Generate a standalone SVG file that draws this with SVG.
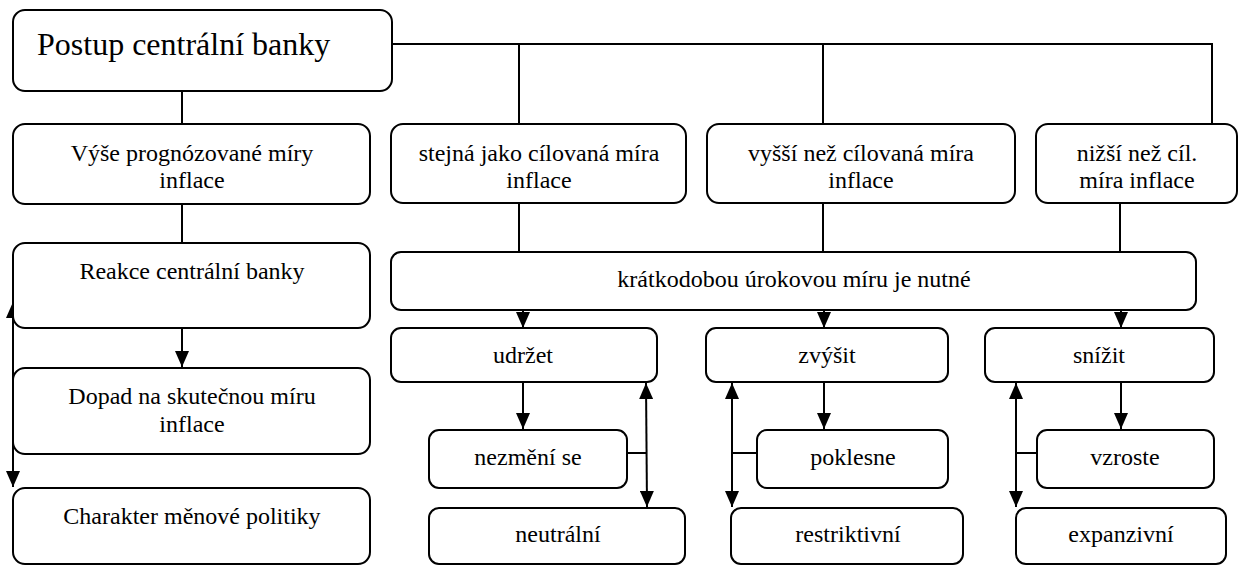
<svg xmlns="http://www.w3.org/2000/svg" width="1241" height="565" viewBox="0 0 1241 565">
  <style>
    .box { fill: #ffffff; stroke: #000000; stroke-width: 2; }
    .lbl { font-size: 24px; text-anchor: middle; }
    .title { font-size: 32px; }
    .ln { fill: none; stroke: #000000; stroke-width: 2; }
    .arr { fill: none; stroke: #000000; stroke-width: 2; marker-end: url(#head); }
    .dbl { fill: none; stroke: #000000; stroke-width: 2; marker-start: url(#head); marker-end: url(#head); }
  </style>
  <defs>
    <!-- solid triangular arrowhead, 14 wide and 16 long -->
    <marker id="head" markerUnits="userSpaceOnUse" viewBox="0 0 16 14" markerWidth="16" markerHeight="14" refX="16" refY="7" orient="auto-start-reverse">
      <path d="M0,0 L16,7 L0,14 z" fill="#000000"/>
    </marker>
  </defs>
  <rect width="1241" height="565" fill="#ffffff"/>

  <!-- connectors -->
  <g id="connectors">
    <path class="ln" d="M392,44 H1212 V124"/>
    <path class="ln" d="M519,44 V124"/>
    <path class="ln" d="M823,44 V124"/>
    <path class="ln" d="M182,91 V124"/>
    <path class="ln" d="M182,204 V243"/>
    <path class="arr" d="M182,328 V367"/>
    <path class="dbl" d="M13,487 V302"/>
    <path class="ln" d="M519,203 V252"/>
    <path class="ln" d="M823,203 V252"/>
    <path class="ln" d="M1120,203 V252"/>
    <path class="arr" d="M523,310 V328"/>
    <path class="arr" d="M824,310 V328"/>
    <path class="arr" d="M1121,310 V328"/>
    <path class="arr" d="M523,382 V429"/>
    <path class="arr" d="M824,382 V429"/>
    <path class="arr" d="M1121,382 V429"/>
    <path class="dbl" d="M647,507 L646,383"/>
    <path class="ln" d="M627,453 H646"/>
    <path class="dbl" d="M732,507 V383"/>
    <path class="ln" d="M732,453 H757"/>
    <path class="dbl" d="M1016,507 V383"/>
    <path class="ln" d="M1016,453 H1037"/>
  </g>

  <g font-family="Liberation Serif, Times New Roman, serif" fill="#000000">
  <g id="postup">
    <rect class="box" x="13" y="10" width="379" height="81" rx="12"/>
    <text class="title" x="37" y="55" font-family="Liberation Serif, serif">Postup centrální banky</text>
  </g>
  <g id="vyse">
    <rect class="box" x="13" y="124" width="357" height="80" rx="12"/>
    <text class="lbl" x="192" y="161">Výše prognózované míry</text>
    <text class="lbl" x="192" y="188">inflace</text>
  </g>
  <g id="reakce">
    <rect class="box" x="13" y="243" width="357" height="85" rx="12"/>
    <text class="lbl" x="192" y="279">Reakce centrální banky</text>
  </g>
  <g id="dopad">
    <rect class="box" x="13" y="368" width="357" height="86" rx="12"/>
    <text class="lbl" x="192" y="404">Dopad na skutečnou míru</text>
    <text class="lbl" x="192" y="432">inflace</text>
  </g>
  <g id="charakter">
    <rect class="box" x="13" y="488" width="357" height="76" rx="12"/>
    <text class="lbl" x="192" y="524">Charakter měnové politiky</text>
  </g>

  <g id="stejna">
    <rect class="box" x="391" y="124" width="295" height="79" rx="12"/>
    <text class="lbl" x="539" y="161">stejná jako cílovaná míra</text>
    <text class="lbl" x="539" y="188">inflace</text>
  </g>
  <g id="vyssi">
    <rect class="box" x="707" y="124" width="308" height="79" rx="12"/>
    <text class="lbl" x="861" y="161">vyšší než cílovaná míra</text>
    <text class="lbl" x="861" y="188">inflace</text>
  </g>
  <g id="nizsi">
    <rect class="box" x="1036" y="124" width="201" height="79" rx="12"/>
    <text class="lbl" x="1137" y="161">nižší než cíl.</text>
    <text class="lbl" x="1137" y="188">míra inflace</text>
  </g>

  <g id="kratkodobou">
    <rect class="box" x="391" y="252" width="805" height="58" rx="10"/>
    <text class="lbl" x="794" y="287">krátkodobou úrokovou míru je nutné</text>
  </g>

  <g id="udrzet">
    <rect class="box" x="391" y="328" width="266" height="54" rx="10"/>
    <text class="lbl" x="523" y="363">udržet</text>
  </g>
  <g id="zvysit">
    <rect class="box" x="706" y="328" width="242" height="54" rx="10"/>
    <text class="lbl" x="827" y="363">zvýšit</text>
  </g>
  <g id="snizit">
    <rect class="box" x="985" y="328" width="229" height="54" rx="10"/>
    <text class="lbl" x="1099" y="363">snížit</text>
  </g>

  <g id="nezmeni">
    <rect class="box" x="429" y="430" width="198" height="58" rx="10"/>
    <text class="lbl" x="528" y="465">nezmění se</text>
  </g>
  <g id="poklesne">
    <rect class="box" x="757" y="430" width="191" height="58" rx="10"/>
    <text class="lbl" x="853" y="465">poklesne</text>
  </g>
  <g id="vzroste">
    <rect class="box" x="1037" y="430" width="177" height="58" rx="10"/>
    <text class="lbl" x="1125" y="465">vzroste</text>
  </g>

  <g id="neutralni">
    <rect class="box" x="429" y="508" width="256" height="56" rx="10"/>
    <text class="lbl" x="558" y="542">neutrální</text>
  </g>
  <g id="restriktivni">
    <rect class="box" x="731" y="508" width="232" height="56" rx="10"/>
    <text class="lbl" x="848" y="542">restriktivní</text>
  </g>
  <g id="expanzivni">
    <rect class="box" x="1016" y="508" width="210" height="56" rx="10"/>
    <text class="lbl" x="1121" y="542">expanzivní</text>
  </g>
  </g>
</svg>
